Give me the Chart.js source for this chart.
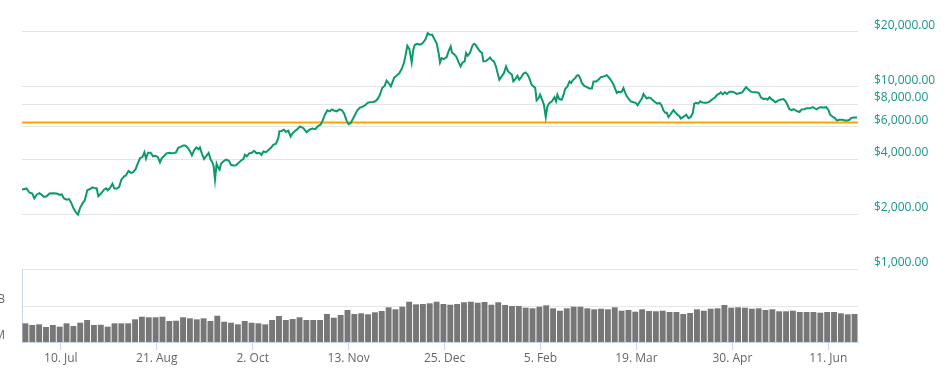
<!DOCTYPE html>
<html>
<head>
<meta charset="utf-8">
<script src="https://cdn.jsdelivr.net/npm/chart.js@4.4.1/dist/chart.umd.min.js"></script>
<style>
  html, body { margin: 0; padding: 0; background: #fff; }
  #wrap { position: relative; width: 947px; height: 375px; overflow: hidden; }
  canvas { position: absolute; left: 0; }
  #priceChart { top: 0; }
  #volumeChart { top: 262px; }
</style>
</head>
<body>
<div id="wrap">
  <canvas id="priceChart" width="947" height="290"></canvas>
  <canvas id="volumeChart" width="947" height="113"></canvas>
</div>
<script>
// x values are days counted from 23 Jun 2017
const dayMin = 0;
const dayMax = 366;

const priceDays = [
  0, 2, 3.2, 4.5, 5.4, 6.4, 7.6, 8.6, 9.6, 10.8, 12, 13.7, 15.2, 16.3, 17.4, 18.4, 19.6, 20.6, 21.5, 22.5,
  23.6, 24.5, 25.4, 26.6, 27.4, 28.6, 29.8, 30.8, 32, 32.7, 33.4, 34.6, 35.9, 36.8, 37.5, 38.5, 39.6, 40.4, 41.4, 42.5,
  43.5, 44.7, 45.5, 46.6, 47.7, 48.7, 49.8, 50.6, 51.7, 52.7, 53.6, 54.3, 55.2, 56.3, 57.4, 58.5, 59.5, 60.4, 61.1, 62.3,
  63.3, 64.5, 65.5, 66.5, 67.4, 68.4, 69.5, 70.6, 71.5, 72.5, 73.6, 74.4, 75.3, 76.3, 77.3, 77.9, 78.8, 79.7, 80.6, 81.7,
  82.6, 83.3, 83.9, 84.5, 85.2, 86, 86.5, 87.1, 88.1, 89.3, 90.5, 91.5, 92.5, 93.7, 94.7, 95.9, 96.9, 97.6, 98.4, 99.5,
  100.6, 101.6, 102.7, 103.9, 104.8, 105.7, 106.8, 108, 109, 110, 111.2, 112.2, 112.7, 113.7, 114.7, 115.6, 116.6, 117.6, 118.5, 119.5,
  120.3, 121.7, 123.2, 124.6, 125.8, 127.2, 128.4, 129.7, 130.7, 131.6, 132.6, 133.7, 134.8, 135.6, 136.6, 137.8, 138.9, 140.1, 141.1, 142.1,
  143, 143.9, 144.8, 145.8, 146.8, 148, 149.1, 150.3, 151.3, 152.3, 153.5, 154.7, 155.7, 156.7, 157.7, 158.8, 159.6, 160.5, 161.5, 162.3,
  163, 164, 165.2, 166.2, 167.2, 168.1, 168.7, 169.6, 170.6, 171.3, 172, 173.1, 174.2, 175.1, 176, 176.7, 177.6, 178.6, 179.6, 180.5,
  181.5, 182.4, 183, 183.7, 184.7, 185.9, 186.9, 187.7, 188.2, 189.1, 190.1, 191, 192, 192.9, 193.8, 194.4, 195.1, 196.1, 197.2, 197.9,
  198.6, 199.5, 200.5, 201.4, 202, 203.1, 204.2, 204.9, 205.6, 206.6, 207.5, 208.2, 209, 210, 211, 211.9, 212.8, 213.6, 214.5, 215.1,
  216, 216.9, 217.7, 218.6, 219.5, 220.4, 221.2, 222.1, 223.1, 223.9, 224.7, 225.3, 226.2, 226.8, 227.7, 228.5, 229.3, 230, 230.9, 232,
  233.1, 233.8, 234.4, 235.2, 236.3, 237.1, 237.8, 238.8, 239.7, 240.4, 241.1, 242.2, 242.9, 243.6, 244.4, 245.1, 246.1, 247.3, 248.4, 249.5,
  250.2, 251.4, 252.4, 253.4, 254.6, 255.3, 256, 256.8, 257.5, 258.2, 259, 259.7, 260.4, 261.1, 261.9, 262.6, 263.3, 264.1, 264.8, 265.7,
  266.5, 267.7, 268.7, 269.5, 270.3, 271.4, 272.1, 272.8, 273.5, 274.4, 275.3, 276.2, 277.2, 278.2, 279.1, 280, 280.8, 281.6, 282.3, 283,
  283.8, 284.5, 285.2, 286, 287, 287.9, 288.4, 289.3, 290.2, 290.8, 291.8, 292.8, 293.7, 294.3, 295.1, 296, 296.9, 297.6, 298.7, 299.8,
  300.8, 301.6, 302.4, 303.5, 304.2, 305.1, 305.9, 306.8, 307.7, 308.6, 309.7, 310.9, 311.8, 312.9, 314.4, 315.3, 316.2, 317, 318.1, 319.1,
  320.2, 321.7, 322.6, 323.5, 324.6, 325.5, 326.4, 327.3, 328.1, 329, 329.9, 330.8, 331.9, 333.4, 334.3, 335.1, 336, 336.9, 337.8, 338.5,
  339.5, 340.4, 341.3, 342.4, 343.6, 345, 346.2, 347.1, 348, 348.9, 349.7, 350.9, 352.1, 353.1, 353.8, 354.8, 355.9, 356.7, 357.9, 359.1,
  360.5, 361.4, 362.3, 362.9, 364.1, 365.6
];
const priceUsd = [
  2720, 2760, 2625, 2590, 2435, 2550, 2600, 2550, 2480, 2500, 2590, 2600, 2590, 2550, 2560, 2435, 2395, 2415, 2315, 2155,
  2040, 1985, 2155, 2300, 2365, 2700, 2740, 2800, 2765, 2765, 2500, 2590, 2720, 2765, 2700, 2775, 2930, 2765, 2750, 2810,
  3080, 3215, 3250, 3440, 3360, 3390, 3530, 3760, 4050, 4100, 4360, 4015, 4330, 4330, 4140, 4170, 4100, 3835, 4025, 4170,
  4300, 4330, 4300, 4320, 4350, 4610, 4660, 4750, 4750, 4630, 4400, 4190, 4450, 4630, 4520, 4630, 4270, 4000, 4140, 4320,
  3970, 3850, 3650, 3080, 3770, 3570, 3500, 3770, 3880, 3970, 3920, 3720, 3690, 3700, 3800, 3930, 4000, 4220, 4140, 4300,
  4330, 4440, 4300, 4330, 4220, 4400, 4360, 4500, 4610, 4790, 4850, 5200, 5680, 5700, 5790, 5630, 5720, 5320, 5550, 5700,
  5790, 6030, 5900, 5610, 5790, 5870, 5830, 6080, 6160, 6490, 6990, 7400, 7300, 7480, 7380, 7300, 7480, 7400, 7070, 6490,
  6210, 6300, 6610, 6990, 7400, 7650, 7750, 7880, 8120, 8180, 8220, 8280, 8520, 9000, 9790, 10080, 10730, 10430, 10000, 10640,
  11180, 11420, 11820, 12430, 13410, 15210, 16680, 16000, 13510, 15860, 16900, 17110, 16900, 17110, 17610, 18160, 19570, 19150, 19150, 18160,
  17260, 15210, 13510, 14280, 14100, 14450, 15720, 16540, 15320, 15020, 14580, 13690, 12850, 13510, 13690, 15210, 14710, 15210, 16680, 17110,
  16900, 16200, 15540, 15210, 13690, 13740, 14100, 14390, 13990, 13690, 12850, 11820, 10880, 11330, 11820, 12850, 12060, 11820, 11580, 10640,
  10960, 11420, 10880, 11240, 11720, 11920, 11680, 11090, 10200, 10000, 9790, 8380, 8630, 9000, 8450, 7930, 6790, 7750, 8120, 8280,
  8710, 8280, 9000, 8520, 8450, 9000, 9680, 10000, 10640, 10430, 10790, 11090, 11460, 11520, 11090, 10430, 10080, 9910, 9740, 9740,
  10640, 10640, 10880, 11240, 11330, 11420, 11520, 11240, 10960, 10640, 10200, 9680, 9200, 9350, 9270, 9380, 9790, 9200, 8820, 8520,
  8280, 8180, 8120, 7880, 8180, 8580, 9080, 8820, 8580, 8680, 8630, 8380, 8180, 8040, 8120, 7880, 7400, 7160, 7160, 6790,
  6990, 7200, 7400, 7200, 6990, 6840, 6670, 6790, 6890, 6990, 6700, 6790, 7160, 8040, 8120, 8040, 8280, 8180, 8120, 8120,
  8220, 8380, 8520, 8710, 8960, 9090, 9270, 9030, 9270, 9090, 9350, 9350, 9270, 9090, 9200, 9270, 9600, 9910, 9600, 9350,
  9270, 9270, 9200, 8710, 8520, 8580, 8450, 8710, 8520, 8350, 8180, 8330, 8450, 8520, 8280, 7930, 7500, 7400, 7500, 7400,
  7300, 7240, 7480, 7500, 7580, 7580, 7690, 7580, 7480, 7650, 7690, 7650, 7690, 7400, 6990, 6840, 6700, 6510, 6560, 6560,
  6510, 6510, 6560, 6700, 6750, 6750
];
const levelUsd = 6340;
const priceTicks = [1000, 2000, 4000, 6000, 8000, 10000, 20000];

// volume bars, one per 3 days, in billions USD
const volumeStepDays = 3;
const volumeBillions = [
  1.09, 0.88, 0.96, 0.68, 0.88, 0.71, 1.09, 0.77, 1.18, 1.67, 0.88, 0.91, 0.71, 1.09, 1.09, 1.09, 1.82, 2.54, 2.36, 2.36,
  2.54, 1.47, 1.52, 2.36, 2.07, 1.82, 2.07, 1.47, 2.89, 1.34, 1.18, 0.96, 1.47, 1.18, 1.09, 0.96, 1.67, 2.78, 1.67, 1.9,
  2.36, 1.67, 1.67, 1.67, 3.59, 2.24, 3.16, 5.99, 3.59, 3.93, 3.46, 4.47, 5.27, 8.47, 6.56, 9.14, 17.3, 12.4, 12.9, 14.1,
  17.3, 12.9, 11.8, 12.9, 16.1, 17.3, 15.2, 16.7, 11.8, 16.1, 11.4, 10, 10, 8.05, 7.45, 9.14, 10.9, 7.45, 5.48, 7.45,
  9.14, 9.14, 7.45, 6.56, 7.08, 6.56, 8.47, 5.48, 5.99, 4.82, 6.56, 5.27, 5.08, 5.48, 4.64, 4.64, 3.59, 4.08, 6.56, 5.48,
  7.08, 7.45, 11.4, 8.05, 8.47, 8.05, 7.08, 7.45, 5.99, 6.56, 5.08, 5.08, 5.48, 4.64, 4.64, 4.64, 4.25, 4.64, 4.64, 3.93,
  3.46, 3.59
];
const volumeTicks = [0.1, 10];
const volumeTickLabels = ['100M', '10B'];

const dateTickDays = [17, 59, 101, 143, 185, 227, 269, 311, 353];
const dateTickLabels = ['10. Jul', '21. Aug', '2. Oct', '13. Nov', '25. Dec', '5. Feb', '19. Mar', '30. Apr', '11. Jun'];

const font = { family: '"Open Sans", sans-serif', size: 12 };

new Chart(document.getElementById('priceChart'), {
  type: 'line',
  data: {
    datasets: [
      {
        label: 'Price',
        data: priceDays.map((d, i) => ({ x: d, y: priceUsd[i] })),
        borderColor: '#0c9a6c',
        borderWidth: 2,
        pointRadius: 0,
        tension: 0,
        order: 1
      },
      {
        label: 'Level',
        data: [{ x: dayMin, y: levelUsd }, { x: dayMax, y: levelUsd }],
        borderColor: '#ffa500',
        borderWidth: 2,
        pointRadius: 0,
        order: 2
      }
    ]
  },
  options: {
    responsive: false,
    animation: false,
    devicePixelRatio: 1,
    layout: { padding: { left: 22, top: 0, right: 0, bottom: 21 } },
    plugins: { legend: { display: false }, tooltip: { enabled: false } },
    scales: {
      x: { type: 'linear', min: dayMin, max: dayMax, display: false },
      y: {
        type: 'logarithmic',
        position: 'right',
        bounds: 'data',
        min: 1000,
        max: 29700,
        afterBuildTicks: (s) => { s.ticks = priceTicks.map((v) => ({ value: v })); },
        afterFit: (s) => { s.width = 89; s.paddingTop = 0; s.paddingBottom = 0; },
        grid: { color: '#e6e6e6', drawTicks: false },
        border: { display: false },
        ticks: {
          padding: 16,
          labelOffset: -6,
          color: '#16968a',
          font: font,
          callback: (v) => '$' + Number(v).toLocaleString('en-US', { minimumFractionDigits: 2, maximumFractionDigits: 2 })
        }
      }
    }
  }
});

new Chart(document.getElementById('volumeChart'), {
  type: 'bar',
  data: {
    datasets: [{
      label: 'Volume',
      data: volumeBillions.map((v, i) => ({ x: volumeStepDays * (i + 0.5), y: v })),
      backgroundColor: '#777777',
      barPercentage: 0.86,
      categoryPercentage: 1
    }]
  },
  options: {
    responsive: false,
    animation: false,
    devicePixelRatio: 1,
    layout: { padding: { left: 0, top: 7, right: 89, bottom: 0 } },
    plugins: { legend: { display: false }, tooltip: { enabled: false } },
    scales: {
      x: {
        type: 'linear',
        min: dayMin,
        max: dayMax,
        bounds: 'data',
        offset: false,
        afterBuildTicks: (s) => { s.ticks = dateTickDays.map((v) => ({ value: v })); },
        afterFit: (s) => { s.height = 33; s.paddingLeft = 0; s.paddingRight = 0; },
        grid: { offset: false, drawOnChartArea: false, tickLength: 8, tickColor: '#ccd6eb' },
        border: { color: '#ccd6eb' },
        ticks: {
          padding: 1,
          maxRotation: 0,
          autoSkip: false,
          color: '#666666',
          font: font,
          callback: (v, i) => dateTickLabels[i]
        }
      },
      y: {
        type: 'logarithmic',
        position: 'left',
        bounds: 'data',
        min: 0.1,
        max: 1137,
        beginAtZero: false,
        afterBuildTicks: (s) => { s.ticks = volumeTicks.map((v) => ({ value: v })); },
        afterFit: (s) => { s.width = 22; s.paddingTop = 0; s.paddingBottom = 0; },
        grid: { color: '#e6e6e6', drawTicks: false },
        border: { color: '#ccd6eb' },
        ticks: {
          padding: 17,
          labelOffset: -6,
          color: '#666666',
          font: font,
          callback: (v, i) => volumeTickLabels[i]
        }
      }
    }
  }
});
</script>
</body>
</html>
